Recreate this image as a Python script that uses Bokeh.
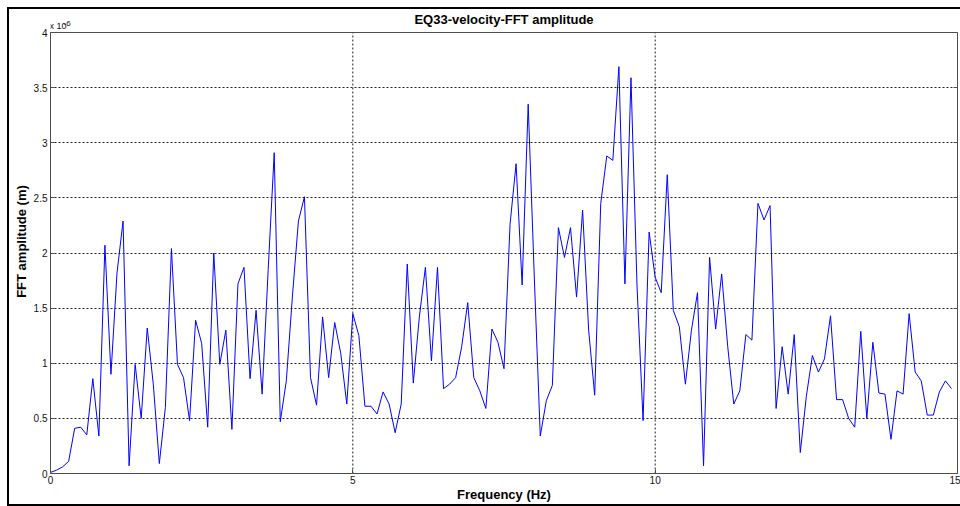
import numpy as np
from bokeh.plotting import figure
from bokeh.models import Range1d, LinearAxis, FixedTicker, Label, Span
from bokeh.embed import file_html
from bokeh.resources import INLINE

# FFT bin spacing (Hz) and amplitude spectrum, in units of 1e-6 m
DF = 0.1
amplitude = [
    0.01, 0.03, 0.06, 0.11, 0.41, 0.42, 0.35, 0.86, 0.34, 2.07,
    0.90, 1.82, 2.29, 0.07, 0.99, 0.50, 1.32, 0.81, 0.09, 0.60,
    2.04, 0.99, 0.87, 0.48, 1.39, 1.18, 0.42, 2.00, 0.99, 1.30,
    0.40, 1.72, 1.87, 0.86, 1.48, 0.72, 1.85, 2.91, 0.47, 0.84,
    1.60, 2.29, 2.51, 0.87, 0.62, 1.42, 0.87, 1.37, 1.09, 0.63,
    1.45, 1.25, 0.61, 0.61, 0.54, 0.74, 0.63, 0.37, 0.63, 1.90,
    0.82, 1.42, 1.87, 1.02, 1.87, 0.77, 0.81, 0.87, 1.15, 1.55,
    0.87, 0.75, 0.59, 1.31, 1.19, 0.95, 2.26, 2.81, 1.71, 3.35,
    1.80, 0.34, 0.66, 0.80, 2.23, 1.96, 2.23, 1.60, 2.39, 1.30,
    0.71, 2.45, 2.88, 2.84, 3.69, 1.72, 3.59, 1.70, 0.48, 2.19,
    1.78, 1.64, 2.71, 1.48, 1.33, 0.81, 1.30, 1.64, 0.07, 1.96,
    1.31, 1.81, 1.15, 0.63, 0.75, 1.26, 1.21, 2.45, 2.30, 2.43,
    0.59, 1.15, 0.72, 1.26, 0.19, 0.70, 1.07, 0.92, 1.04, 1.43,
    0.67, 0.67, 0.50, 0.42, 1.29, 0.50, 1.19, 0.73, 0.72, 0.31,
    0.75, 0.72, 1.45, 0.92, 0.84, 0.53, 0.53, 0.74, 0.84, 0.77,
]
frequency = [round(i * DF, 1) for i in range(len(amplitude))]

x_ticks = [0, 5, 10, 15]
y_ticks = [0, 0.5, 1, 1.5, 2, 2.5, 3, 3.5, 4]
y_tick_labels = ["0", "0.5", "1", "1.5", "2", "2.5", "3", "3.5", "4"]

X_MIN, X_MAX = x_ticks[0], x_ticks[-1]
Y_MIN, Y_MAX = y_ticks[0], y_ticks[-1]

FONT = "Liberation Sans"
AXIS_GREY = "#4d4d4d"

# canvas geometry: the drawing frame also covers the title strip above the axes box
CANVAS_W, CANVAS_H = 951, 495
BORDER_L, BORDER_R, BORDER_B = 41, 3, 31
TITLE_STRIP = 23
box_h = CANVAS_H - BORDER_B - TITLE_STRIP
y_top = Y_MAX * (box_h + TITLE_STRIP) / box_h

p = figure(
    title=None,
    width=CANVAS_W, height=CANVAS_H,
    output_backend="svg", toolbar_location=None,
    x_range=Range1d(X_MIN, X_MAX), y_range=Range1d(Y_MIN, y_top),
    min_border_left=BORDER_L, min_border_right=BORDER_R,
    min_border_top=0, min_border_bottom=BORDER_B,
    background_fill_color="white", border_fill_color="white",
)
# black figure frame drawn as a CSS outline, which takes no layout space
p.styles = {
    "margin-left": "9px", "margin-top": "9px",
    "outline": "2px solid black",
}
p.outline_line_color = None

# dotted grid inside the axes box
p.xgrid.visible = False
p.ygrid[0].ticker = FixedTicker(ticks=y_ticks)
p.ygrid[0].grid_line_color = "#222222"
p.ygrid[0].grid_line_dash = "2 2"
p.segment(x0=x_ticks, y0=[Y_MIN] * len(x_ticks), x1=x_ticks, y1=[Y_MAX] * len(x_ticks),
          line_color="#222222", line_dash="2 2", line_width=1)

# spectrum line
p.line(frequency, amplitude, line_color="#0000ff", line_width=1)

def style_axis(ax, ticks):
    ax.ticker = FixedTicker(ticks=ticks)
    ax.minor_tick_line_color = None
    ax.major_tick_in = 4
    ax.major_tick_out = 0
    ax.major_tick_line_color = AXIS_GREY
    ax.axis_line_color = AXIS_GREY
    ax.major_label_text_font = FONT
    ax.major_label_text_font_size = "10px"
    ax.major_label_text_color = "#111111"
    ax.major_label_standoff = 3
    ax.axis_label_text_font = FONT
    ax.axis_label_text_font_size = "13px"
    ax.axis_label_text_font_style = "bold"
    ax.axis_label_text_color = "black"

xa = p.xaxis[0]
style_axis(xa, x_ticks)
xa.axis_label = "Frequency (Hz)"
xa.major_label_standoff = 2
xa.axis_label_standoff = 0

ya = p.yaxis[0]
style_axis(ya, y_ticks)
ya.bounds = (Y_MIN, Y_MAX)
ya.major_label_overrides = {t: s for t, s in zip(y_ticks, y_tick_labels)}
ya.axis_label = "FFT amplitude (m)"
ya.axis_label_standoff = 2

# right edge of the axes box: inward ticks, no labels
right_ax = LinearAxis(bounds=(Y_MIN, Y_MAX))
style_axis(right_ax, y_ticks)
right_ax.major_label_text_color = None
right_ax.major_label_standoff = 0
p.add_layout(right_ax, "right")

# top edge of the axes box
p.add_layout(Span(location=Y_MAX, dimension="width", line_color=AXIS_GREY, line_width=1))

# title centred over the axes box
p.add_layout(Label(x=(X_MIN + X_MAX) / 2, y=Y_MAX, y_offset=13,
                   text="EQ33-velocity-FFT amplitude",
                   text_font=FONT, text_font_size="13px", text_font_style="bold",
                   text_color="black", text_align="center", text_baseline="middle"))

# exponent marker above the y axis
p.add_layout(Label(x=X_MIN, y=Y_MAX, x_offset=-1, y_offset=2, text="x 10",
                   text_font=FONT, text_font_size="9px", text_color="#111111",
                   text_baseline="bottom"))
p.add_layout(Label(x=X_MIN, y=Y_MAX, x_offset=13, y_offset=7, text="-6",
                   text_font=FONT, text_font_size="8px", text_color="#111111",
                   text_baseline="bottom"))

open("out.html", "w").write(file_html(p, INLINE))
